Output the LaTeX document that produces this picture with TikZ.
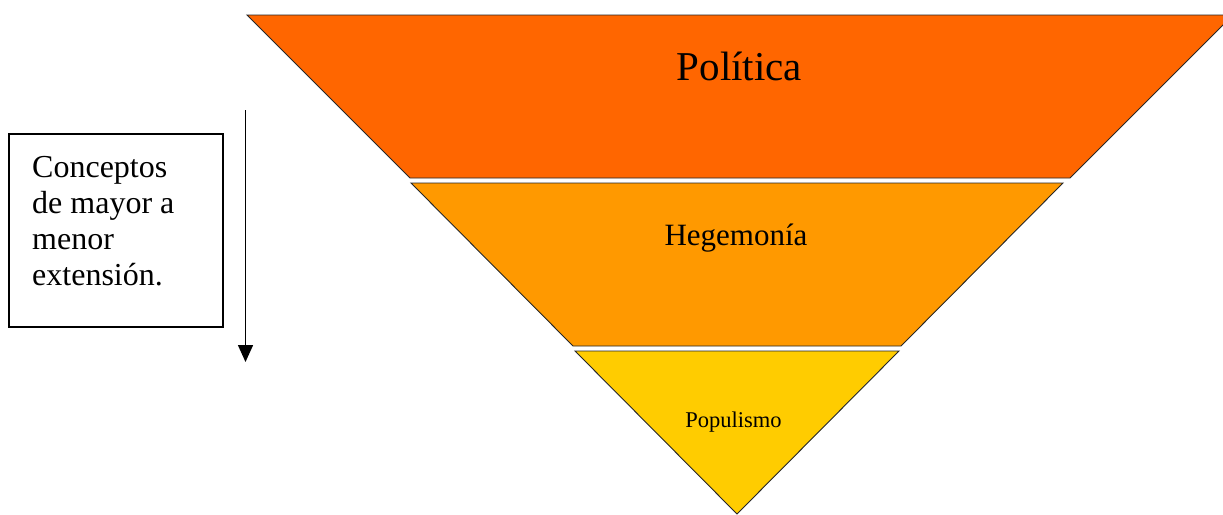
\documentclass[tikz,border=0pt]{standalone}
\usepackage{fontspec}
\setmainfont{Liberation Serif}
\usetikzlibrary{arrows.meta}
\definecolor{bandA}{HTML}{FF6600}
\definecolor{bandB}{HTML}{FF9900}
\definecolor{bandC}{HTML}{FFCC00}
\begin{document}
\begin{tikzpicture}[x=1pt,y=-1pt,
  band/.style={draw=black!85,line width=0.9pt,line join=miter},
  label/.style={anchor=base,inner sep=0pt,text=black},
  legend/.style={draw=black,line width=1.2pt}]
\useasboundingbox (0,0) rectangle (1223,514);
\clip (0,0) rectangle (1223,514);
% the three stacked bands of the inverted pyramid
\fill[white] (0,0) rectangle (1223,514);
\filldraw[band,fill=bandA] (247,15) -- (1233,15) -- (1070,178) -- (410,178) -- cycle;
\filldraw[band,fill=bandB] (411,183) -- (1063,183) -- (901,346) -- (573,346) -- cycle;
\filldraw[band,fill=bandC] (575,351) -- (899,351) -- (737,514) -- cycle;
% band labels
\node[label,font=\fontsize{41}{44}\selectfont] (pol) at (739.5,80) {Política};
\node[label,font=\fontsize{31}{34}\selectfont] (heg) at (736,245) {Hegemonía};
\node[label,font=\fontsize{22.5}{25}\selectfont] (pop) at (733.5,427) {Populismo};
% legend box and direction arrow (base anchor sits on the last line)
\draw[legend] (9,134) rectangle (223,327);
\node[anchor=base west,inner sep=0pt,align=left,font=\fontsize{32}{36}\selectfont] (txt) at (32,285)
  {Conceptos\\de mayor a\\menor\\extensión.};
\coordinate (arrtop) at (245.5,110);
\coordinate (arrend) at (245.5,362);
\draw[line width=1.5pt,-{Triangle[width=15pt,length=17pt]}] (arrtop) -- (arrend);
\end{tikzpicture}
\end{document}
